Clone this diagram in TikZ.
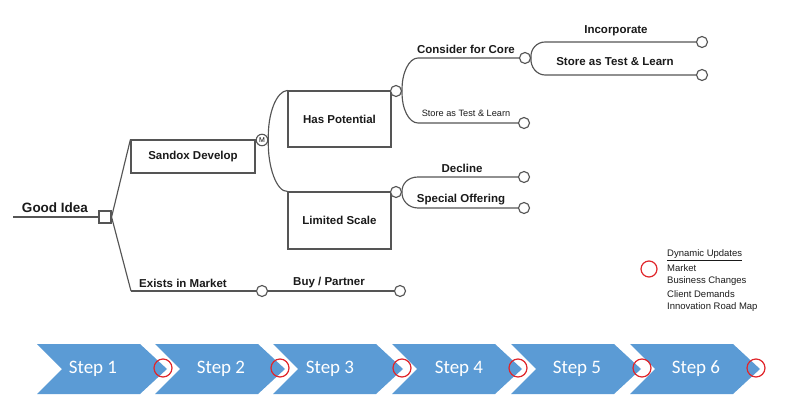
\documentclass[tikz,border=0pt]{standalone}
\usepackage{fontspec}
\setmainfont{Liberation Sans}
\newfontfamily\stepfont{Carlito}
\definecolor{lncol}{HTML}{555555}
\definecolor{txtcol}{HTML}{1A1A1A}
\definecolor{stepblue}{HTML}{5B9BD5}
\definecolor{mkred}{HTML}{E0262B}
\begin{document}
\begin{tikzpicture}[x=1pt,y=-1pt,
  ln/.style={draw=lncol, line width=1.15pt},
  bx/.style={draw=lncol, line width=1.15pt, inner sep=0pt, font=\bfseries\fontsize{11.5}{13}\selectfont, text=txtcol},
  lab/.style={font=\bfseries\fontsize{11.5}{13}\selectfont, text=txtcol, inner sep=0pt},
  smlab/.style={font=\fontsize{9.2}{11}\selectfont, text=txtcol, inner sep=0pt},
  leg/.style={font=\fontsize{9.5}{11}\selectfont, text=txtcol, inner sep=0pt, anchor=west},
  endc/.style={circle, draw=lncol, line width=1.15pt, fill=white, minimum size=11pt, inner sep=0pt},
  sqbox/.style={rectangle, draw=lncol, line width=1.15pt, fill=white, minimum size=12pt, inner sep=0pt},
  chev/.style={fill=stepblue},
  steplab/.style={font=\stepfont\fontsize{19}{22}\selectfont, text=white, inner sep=0pt},
  redc/.style={circle, draw=mkred, line width=1.2pt, minimum size=18pt, inner sep=0pt}]
\useasboundingbox (0,0) rectangle (800,403);

% ---- decision tree ----
\coordinate (gi) at (13,217);
\node[sqbox] (sq) at (105,217) {};
\draw[ln] (gi) -- (sq.west);
\node[lab, font=\bfseries\fontsize{13.5}{15}\selectfont] (tgi) at (55,208) {Good Idea};

\node[bx, minimum width=124pt, minimum height=33pt] (sd) at (193,156.5) {Sandox Develop};
\node[endc, minimum size=11.5pt, font=\fontsize{7}{8}\selectfont] (m) at (262,140) {M};
\draw[ln] (sd.north east) -- (m.west);
\coordinate (ex) at (131,291);
\draw[ln] (sq.east) -- (sd.north west);
\draw[ln] (sq.east) -- (ex);

\node[endc] (c1) at (262,291) {};
\node[endc] (c2) at (400,291) {};
\draw[ln] (ex) -- (c1.west);
\draw[ln] (c1.east) -- (c2.west);
\node[lab] (tex) at (183,283) {Exists in Market};
\node[lab] (tbp) at (329,283) {Buy / Partner};

\node[bx, minimum width=103pt, minimum height=56pt] (hp) at (339.5,119) {Has Potential};
\node[bx, minimum width=103pt, minimum height=57pt] (ls) at (339.5,220.5) {Limited Scale};
\draw[ln] (m.east) .. controls (267.5,113) and (276.7,91) .. (hp.north west);
\draw[ln] (m.east) .. controls (267.5,167) and (276.7,192) .. (ls.north west);

\node[endc] (hc) at (396,91) {};
\node[endc] (lc) at (396,192) {};

% Has Potential branches
\node[endc] (cc) at (525,58) {};
\node[endc] (st1) at (524,123) {};
\draw[ln] (hc.east) .. controls (401.5,73) and (409,58) .. (418,58) -- (cc.west);
\draw[ln] (hc.east) .. controls (401.5,109) and (409,123) .. (418,123) -- (st1.west);
\node[lab] (tcc) at (466,49) {Consider for Core};
\node[smlab] (tst1) at (466,113) {Store as Test \& Learn};

% Consider for Core branches
\node[endc] (inc) at (702,42) {};
\node[endc] (st2) at (702,75) {};
\draw[ln] (cc.east) .. controls (530,49) and (537,42) .. (545,42) -- (inc.west);
\draw[ln] (cc.east) .. controls (530,67) and (537,75) .. (545,75) -- (st2.west);
\node[lab] (tinc) at (616,31) {Incorporate};
\node[lab] (tst2) at (615,62) {Store as Test \& Learn};

% Limited Scale branches
\node[endc] (dc) at (524,177) {};
\node[endc] (so) at (524,208) {};
\draw[ln] (lc.east) .. controls (401.5,184) and (408,177) .. (418,177) -- (dc.west);
\draw[ln] (lc.east) .. controls (401.5,200) and (408,208) .. (418,208) -- (so.west);
\node[lab] (tdc) at (462,168) {Decline};
\node[lab] (tso) at (461,200) {Special Offering};

% ---- legend ----
\node[redc, minimum size=16pt] (lgc) at (649,269) {};
\node[leg] (l1) at (667,255) {\underline{Dynamic Updates}};
\node[leg] (l2) at (667,268) {Market};
\node[leg] (l3) at (667,281) {Business Changes};
\node[leg] (l4) at (667,294) {Client Demands};
\node[leg] (l5) at (667,307) {Innovation Road Map};

% ---- steps ----
\foreach \x in {37,155,273,392,511,630}{
  \fill[chev] (\x,344) -- (\x+103,344) -- (\x+130,369) -- (\x+103,394) -- (\x,394) -- (\x+25,369) -- cycle;
}
\node[steplab] (s1) at (93,369) {Step 1};
\node[steplab] (s2) at (221,369) {Step 2};
\node[steplab] (s3) at (330,369) {Step 3};
\node[steplab] (s4) at (459,369) {Step 4};
\node[steplab] (s5) at (577,369) {Step 5};
\node[steplab] (s6) at (696,369) {Step 6};
\foreach \cx/\nm in {163/r1,280/r2,402/r3,518/r4,642/r5,756/r6}{
  \node[redc] (\nm) at (\cx,368) {};
}
\end{tikzpicture}
\end{document}
